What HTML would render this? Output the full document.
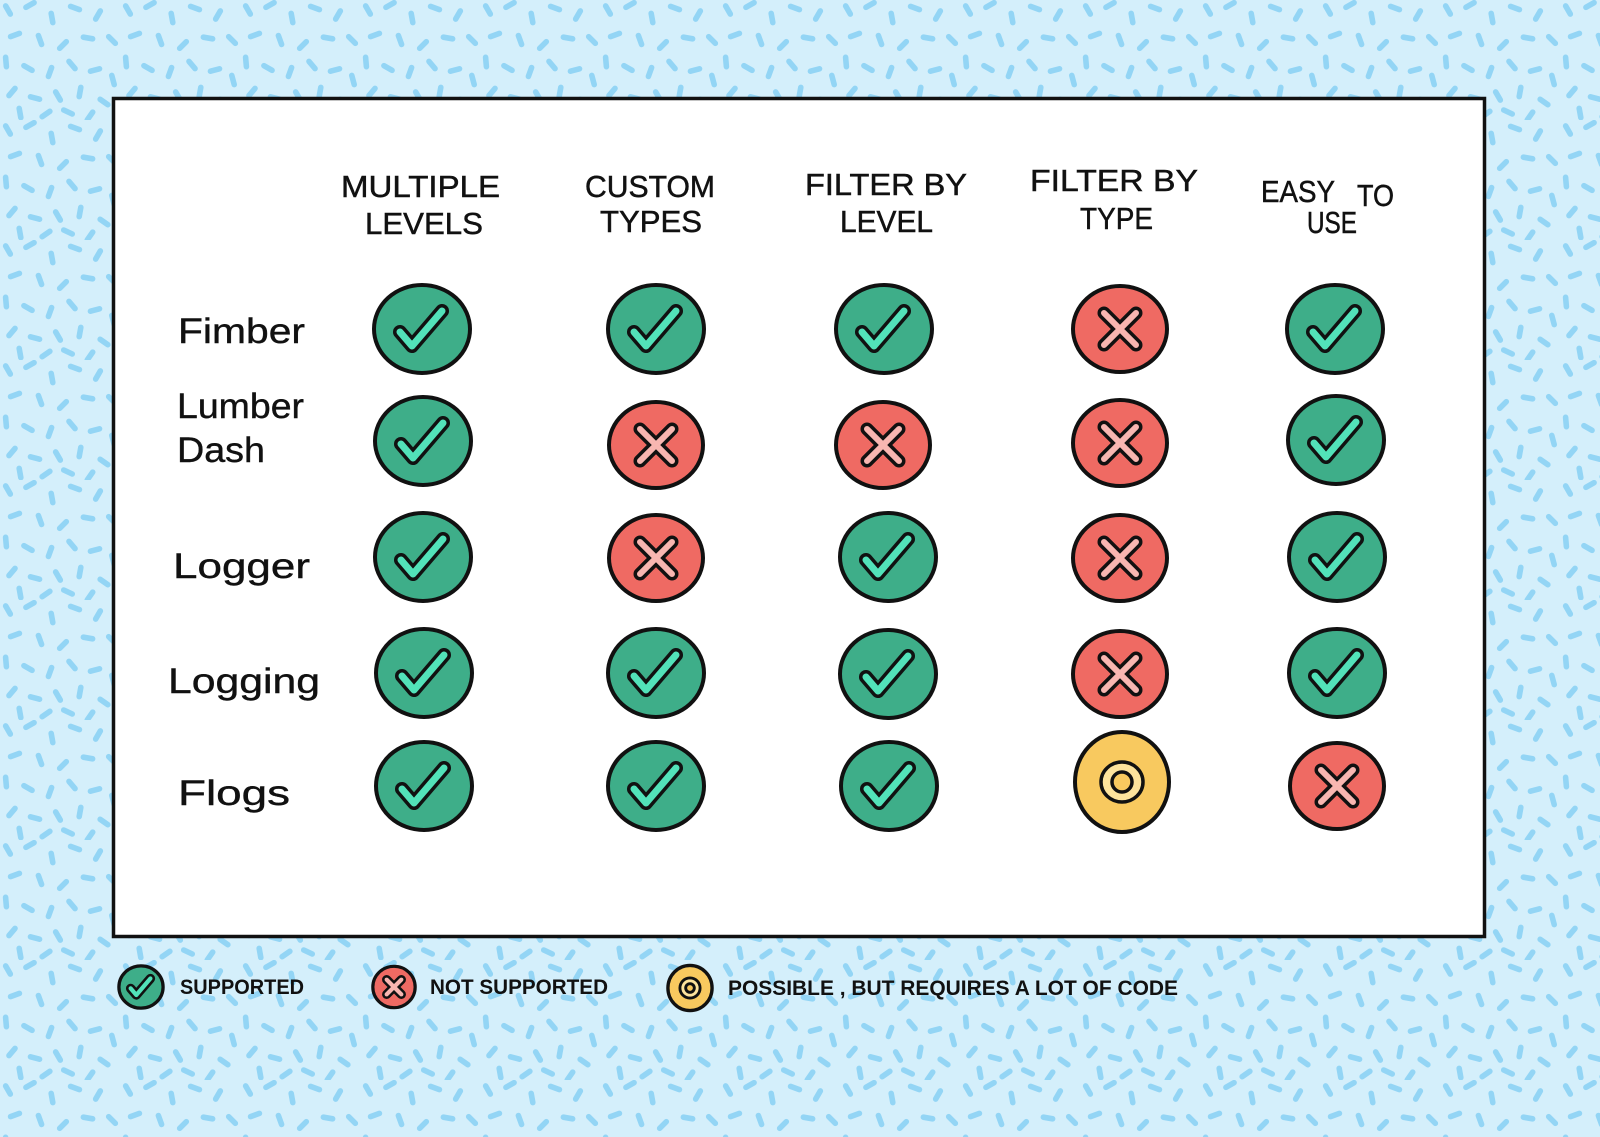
<!DOCTYPE html>
<html>
<head>
<meta charset="utf-8">
<style>
  html,body{margin:0;padding:0;background:#d4effb;}
  svg{display:block;}
  text{font-family:"Liberation Sans","DejaVu Sans",sans-serif;fill:#111;}
</style>
</head>
<body>
<svg width="1600" height="1137" viewBox="0 0 1600 1137" xmlns="http://www.w3.org/2000/svg">
  <defs>
    <pattern id="spr" x="0" y="0" width="120" height="120" patternUnits="userSpaceOnUse">
      <g fill="#93d5f5">
        <rect x="-7.5" y="-2.8" width="15" height="5.6" rx="2.8" transform="translate(8,10) rotate(60)"/>
        <rect x="-7.5" y="-2.8" width="15" height="5.6" rx="2.8" transform="translate(30,5) rotate(-30)"/>
        <rect x="-7.5" y="-2.8" width="15" height="5.6" rx="2.8" transform="translate(52,18) rotate(80)"/>
        <rect x="-7.5" y="-2.8" width="15" height="5.6" rx="2.8" transform="translate(75,8) rotate(20)"/>
        <rect x="-7.5" y="-2.8" width="15" height="5.6" rx="2.8" transform="translate(98,15) rotate(-60)"/>
        <rect x="-7.5" y="-2.8" width="15" height="5.6" rx="2.8" transform="translate(112,40) rotate(45)"/>
        <rect x="-7.5" y="-2.8" width="15" height="5.6" rx="2.8" transform="translate(15,35) rotate(-20)"/>
        <rect x="-7.5" y="-2.8" width="15" height="5.6" rx="2.8" transform="translate(40,40) rotate(70)"/>
        <rect x="-7.5" y="-2.8" width="15" height="5.6" rx="2.8" transform="translate(63,45) rotate(-45)"/>
        <rect x="-7.5" y="-2.8" width="15" height="5.6" rx="2.8" transform="translate(88,38) rotate(10)"/>
        <rect x="-7.5" y="-2.8" width="15" height="5.6" rx="2.8" transform="translate(6,62) rotate(85)"/>
        <rect x="-7.5" y="-2.8" width="15" height="5.6" rx="2.8" transform="translate(28,68) rotate(30)"/>
        <rect x="-7.5" y="-2.8" width="15" height="5.6" rx="2.8" transform="translate(50,72) rotate(-70)"/>
        <rect x="-7.5" y="-2.8" width="15" height="5.6" rx="2.8" transform="translate(72,65) rotate(50)"/>
        <rect x="-7.5" y="-2.8" width="15" height="5.6" rx="2.8" transform="translate(95,70) rotate(-15)"/>
        <rect x="-7.5" y="-2.8" width="15" height="5.6" rx="2.8" transform="translate(113,80) rotate(75)"/>
        <rect x="-7.5" y="-2.8" width="15" height="5.6" rx="2.8" transform="translate(12,92) rotate(-50)"/>
        <rect x="-7.5" y="-2.8" width="15" height="5.6" rx="2.8" transform="translate(35,98) rotate(15)"/>
        <rect x="-7.5" y="-2.8" width="15" height="5.6" rx="2.8" transform="translate(58,96) rotate(60)"/>
        <rect x="-7.5" y="-2.8" width="15" height="5.6" rx="2.8" transform="translate(80,92) rotate(-80)"/>
        <rect x="-7.5" y="-2.8" width="15" height="5.6" rx="2.8" transform="translate(104,102) rotate(35)"/>
        <rect x="-7.5" y="-2.8" width="15" height="5.6" rx="2.8" transform="translate(20,113) rotate(80)"/>
        <rect x="-7.5" y="-2.8" width="15" height="5.6" rx="2.8" transform="translate(46,114) rotate(-35)"/>
        <rect x="-7.5" y="-2.8" width="15" height="5.6" rx="2.8" transform="translate(68,112) rotate(25)"/>
        <rect x="-7.5" y="-2.8" width="15" height="5.6" rx="2.8" transform="translate(90,116) rotate(-55)"/>
      </g>
    </pattern>

    <g id="chk">
      <ellipse cx="0" cy="0" rx="48" ry="44" fill="#3eae89" stroke="#111" stroke-width="4"/>
      <path d="M-22,3 L-10,17 L20,-18" fill="none" stroke="#111" stroke-width="14" stroke-linecap="round" stroke-linejoin="round"/>
      <path d="M-22,3 L-10,17 L20,-18" fill="none" stroke="#52e2b9" stroke-width="7" stroke-linecap="round" stroke-linejoin="round"/>
    </g>
    <g id="crs">
      <ellipse cx="0" cy="0" rx="47" ry="43" fill="#ef6a63" stroke="#111" stroke-width="4"/>
      <path d="M-16,-16 L16,16 M16,-16 L-16,16" fill="none" stroke="#111" stroke-width="13" stroke-linecap="round"/>
      <path d="M-16,-16 L16,16 M16,-16 L-16,16" fill="none" stroke="#f8b6b1" stroke-width="6" stroke-linecap="round"/>
    </g>
    <g id="yel">
      <ellipse cx="0" cy="0" rx="47" ry="50" fill="#f8c95f" stroke="#111" stroke-width="4"/>
      <ellipse cx="0" cy="0" rx="21" ry="20" fill="#fde39c" stroke="#111" stroke-width="3.5"/>
      <ellipse cx="0" cy="0" rx="10" ry="10" fill="#f8c95f" stroke="#111" stroke-width="3.5"/>
    </g>
  </defs>

  <rect x="0" y="0" width="1600" height="1137" fill="#d4effb"/>
  <rect x="0" y="0" width="1600" height="1137" fill="url(#spr)"/>

  <!-- main box -->
  <rect x="113.5" y="98.5" width="1371" height="838" fill="#ffffff" stroke="#111" stroke-width="3.5"/>

  <!-- headers -->
  <g font-size="31" stroke="#111" stroke-width="0.5">
    <text x="341" y="197" textLength="159" lengthAdjust="spacingAndGlyphs">MULTIPLE</text>
    <text x="365" y="234" textLength="118" lengthAdjust="spacingAndGlyphs">LEVELS</text>
    <text x="585" y="197" textLength="130" lengthAdjust="spacingAndGlyphs">CUSTOM</text>
    <text x="600" y="232" textLength="102" lengthAdjust="spacingAndGlyphs">TYPES</text>
    <text x="805" y="195" textLength="162" lengthAdjust="spacingAndGlyphs">FILTER BY</text>
    <text x="840" y="232" textLength="93" lengthAdjust="spacingAndGlyphs">LEVEL</text>
    <text x="1030" y="191" textLength="168" lengthAdjust="spacingAndGlyphs">FILTER BY</text>
    <text x="1080" y="229" textLength="73" lengthAdjust="spacingAndGlyphs">TYPE</text>
    <text x="1261" y="202" textLength="74" lengthAdjust="spacingAndGlyphs">EASY</text>
    <text x="1357" y="206" textLength="37" lengthAdjust="spacingAndGlyphs">TO</text>
    <text x="1307" y="233" textLength="50" lengthAdjust="spacingAndGlyphs">USE</text>
  </g>

  <!-- row labels -->
  <g font-size="35" stroke="#111" stroke-width="0.4">
    <text x="178" y="343" textLength="127" lengthAdjust="spacingAndGlyphs">Fimber</text>
    <text x="177" y="418" textLength="127" lengthAdjust="spacingAndGlyphs">Lumber</text>
    <text x="177" y="462" textLength="88" lengthAdjust="spacingAndGlyphs">Dash</text>
    <text x="173" y="578" textLength="137" lengthAdjust="spacingAndGlyphs">Logger</text>
    <text x="168" y="693" textLength="152" lengthAdjust="spacingAndGlyphs">Logging</text>
    <text x="178" y="805" textLength="112" lengthAdjust="spacingAndGlyphs">Flogs</text>
  </g>

  <!-- row 1 -->
  <use href="#chk" transform="translate(422,329)"/>
  <use href="#chk" transform="translate(656,329)"/>
  <use href="#chk" transform="translate(884,329)"/>
  <use href="#crs" transform="translate(1120,329)"/>
  <use href="#chk" transform="translate(1335,329)"/>
  <!-- row 2 -->
  <use href="#chk" transform="translate(423,441)"/>
  <use href="#crs" transform="translate(656,445)"/>
  <use href="#crs" transform="translate(883,445)"/>
  <use href="#crs" transform="translate(1120,443)"/>
  <use href="#chk" transform="translate(1336,440)"/>
  <!-- row 3 -->
  <use href="#chk" transform="translate(423,557)"/>
  <use href="#crs" transform="translate(656,558)"/>
  <use href="#chk" transform="translate(888,557)"/>
  <use href="#crs" transform="translate(1120,558)"/>
  <use href="#chk" transform="translate(1337,557)"/>
  <!-- row 4 -->
  <use href="#chk" transform="translate(424,673)"/>
  <use href="#chk" transform="translate(656,673)"/>
  <use href="#chk" transform="translate(888,674)"/>
  <use href="#crs" transform="translate(1120,674)"/>
  <use href="#chk" transform="translate(1337,673)"/>
  <!-- row 5 -->
  <use href="#chk" transform="translate(424,786)"/>
  <use href="#chk" transform="translate(656,786)"/>
  <use href="#chk" transform="translate(889,786)"/>
  <use href="#yel" transform="translate(1122,782)"/>
  <use href="#crs" transform="translate(1337,786)"/>

  <!-- legend -->
  <g transform="translate(141,987) scale(0.47)">
    <ellipse cx="0" cy="0" rx="47" ry="45" fill="#3eae89" stroke="#111" stroke-width="7"/>
    <path d="M-22,3 L-10,17 L20,-18" fill="none" stroke="#111" stroke-width="20" stroke-linecap="round" stroke-linejoin="round"/>
    <path d="M-22,3 L-10,17 L20,-18" fill="none" stroke="#52e2b9" stroke-width="9" stroke-linecap="round" stroke-linejoin="round"/>
  </g>
  <g transform="translate(394,987) scale(0.46)">
    <ellipse cx="0" cy="0" rx="46" ry="45" fill="#ef6a63" stroke="#111" stroke-width="7"/>
    <path d="M-16,-16 L16,16 M16,-16 L-16,16" fill="none" stroke="#111" stroke-width="20" stroke-linecap="round"/>
    <path d="M-16,-16 L16,16 M16,-16 L-16,16" fill="none" stroke="#f8b6b1" stroke-width="9" stroke-linecap="round"/>
  </g>
  <g transform="translate(690,988) scale(0.48)">
    <ellipse cx="0" cy="0" rx="46" ry="47" fill="#f8c95f" stroke="#111" stroke-width="7"/>
    <ellipse cx="0" cy="0" rx="21" ry="21" fill="#fde39c" stroke="#111" stroke-width="6"/>
    <ellipse cx="0" cy="0" rx="9" ry="9" fill="#f8c95f" stroke="#111" stroke-width="6"/>
  </g>

  <g font-size="21" font-weight="bold">
    <text x="180" y="994" textLength="124" lengthAdjust="spacingAndGlyphs">SUPPORTED</text>
    <text x="430" y="994" textLength="178" lengthAdjust="spacingAndGlyphs">NOT  SUPPORTED</text>
    <text x="728" y="995" textLength="450" lengthAdjust="spacingAndGlyphs">POSSIBLE , BUT  REQUIRES  A  LOT  OF  CODE</text>
  </g>
</svg>
</body>
</html>
